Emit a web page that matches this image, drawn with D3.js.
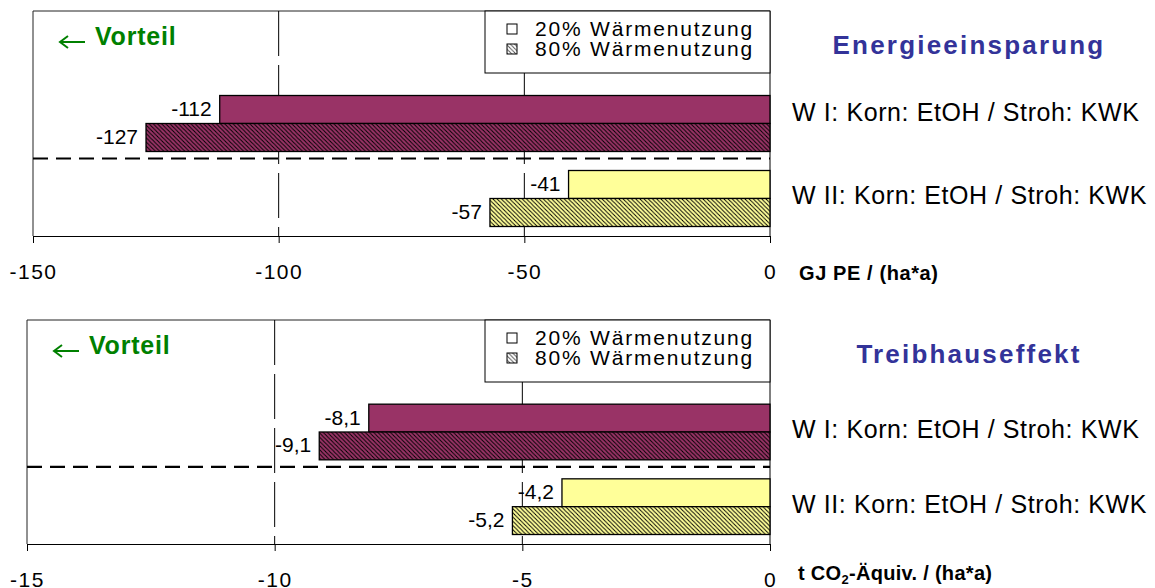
<!DOCTYPE html>
<html><head><meta charset="utf-8">
<script src="https://cdn.jsdelivr.net/npm/d3@7"></script>
<style>
html,body{margin:0;padding:0;background:#fff;}
svg{display:block;font-family:"Liberation Sans",Arial,sans-serif;}
</style></head>
<body>
<svg id="chart" width="1155" height="588"></svg>
<script>
// ---- data ----
const categories = ["", "W I: Korn: EtOH / Stroh: KWK", "W II: Korn: EtOH / Stroh: KWK"];
const seriesNames = ["20% Wärmenutzung", "80% Wärmenutzung"];
const energyWI = [-112, -127];
const energyWII = [-41, -57];
const ghgWI = [-8.1, -9.1];
const ghgWII = [-4.2, -5.2];
const energyTicks = [-150, -100, -50, 0];
const ghgTicks = [-15, -10, -5, 0];
const energyGrid = [-100, -50];
const ghgGrid = [-10, -5];
const panelTitles = ["Energieeinsparung", "Treibhauseffekt"];
const advantageText = "Vorteil";

const de = d3.formatLocale({decimal: ",", thousands: ".", grouping: [3], currency: ["", "€"], minus: "-"});

const panels = [
  {title: panelTitles[0], values: [energyWI, energyWII], ticks: energyTicks, grid: energyGrid,
   domain: [-150, 0], fmt: de.format("d"), x0: 33, x1: 770, y0: 11, y1: 236, labelOff: [-3, 5], unit: "energy"},
  {title: panelTitles[1], values: [ghgWI, ghgWII], ticks: ghgTicks, grid: ghgGrid,
   domain: [-15, 0], fmt: de.format(".1f"), x0: 27, x1: 770, y0: 320, y1: 544, labelOff: [6, 6], unit: "ghg"}
];
const tickFmt = de.format("d");

const colors = {"W I: Korn: EtOH / Stroh: KWK": "#993366", "W II: Korn: EtOH / Stroh: KWK": "#FFFF99"};

const svg = d3.select("#chart");
const defs = svg.append("defs");
function hatch(id, bg, line, w) {
  const s = 4.2;
  const p = defs.append("pattern").attr("id", id).attr("patternUnits", "userSpaceOnUse")
    .attr("width", s).attr("height", s);
  p.append("rect").attr("width", s).attr("height", s).attr("fill", bg);
  p.append("path").attr("d", `M-1,-1 L${s+1},${s+1} M-1,${s-1} L1,${s+1} M${s-1},-1 L${s+1},1`)
    .attr("stroke", line).attr("stroke-width", w);
}
hatch("h0", "#993366", "#000", 1);
hatch("h1", "#FFFF99", "#000", 1);
hatch("hL", "#ffffff", "#555", 1);

panels.forEach((P, pi) => {
  const x = d3.scaleLinear().domain(P.domain).range([P.x0, P.x1]);
  const y = d3.scaleBand().domain(categories).range([P.y0, P.y1]).paddingInner(0).paddingOuter(0);
  const g = svg.append("g");

  // frame: top & left
  g.append("line").attr("x1", P.x0).attr("x2", P.x1).attr("y1", P.y0).attr("y2", P.y0).attr("stroke", "#222");
  g.append("line").attr("x1", P.x0).attr("x2", P.x0).attr("y1", P.y0).attr("y2", P.y1).attr("stroke", "#222");

  // grid
  g.selectAll(".grid").data(P.grid).join("line")
    .attr("x1", d => x(d)).attr("x2", d => x(d))
    .attr("y1", P.y0).attr("y2", P.y1)
    .attr("stroke", "#000").attr("stroke-dasharray", "45,9");

  // zero line (right)
  g.append("line").attr("x1", x(0)).attr("x2", x(0)).attr("y1", P.y0).attr("y2", P.y1).attr("stroke", "#000");

  // bars
  categories.slice(1).forEach((c, ci) => {
    const inner = d3.scaleBand().domain(seriesNames).range([y(c) + 9.5, y(c) + y.bandwidth() - 9.5]);
    const vals = P.values[ci];
    seriesNames.forEach((s, si) => {
      const v = vals[si];
      g.append("rect")
        .attr("x", x(v)).attr("width", x(0) - x(v))
        .attr("y", inner(s)).attr("height", inner.bandwidth())
        .attr("fill", si === 0 ? colors[c] : (ci === 0 ? "url(#h0)" : "url(#h1)"))
        .attr("stroke", "#000").attr("stroke-width", 1.3);
      g.append("text")
        .attr("x", x(v) - 8).attr("y", inner(s) + inner.bandwidth() / 2 + 6.5)
        .attr("text-anchor", "end").attr("font-size", 21).attr("fill", "#000")
        .text(P.fmt(v));
    });
    // category label
    g.append("text").attr("x", 792).attr("y", y(c) + y.bandwidth() / 2 + P.labelOff[ci])
      .attr("font-size", 25).attr("letter-spacing", 0.6).attr("fill", "#000").text(c);
  });

  // separator dashed line
  const sep = y(categories[2]) - 2.5;
  g.append("line").attr("x1", P.x0).attr("x2", x(0)).attr("y1", sep).attr("y2", sep)
    .attr("stroke", "#000").attr("stroke-width", 2.2).attr("stroke-dasharray", "15,8");

  // axis
  const ax = g.append("g").attr("transform", `translate(0,${P.y1})`)
    .call(d3.axisBottom(x).tickValues(P.ticks).tickSize(7).tickSizeOuter(0).tickFormat(tickFmt));
  ax.select(".domain").attr("stroke", "#000");
  ax.selectAll(".tick line").attr("stroke", "#000");
  ax.selectAll(".tick text").attr("y", 43).attr("dy", 0).attr("font-size", 21)
    .attr("letter-spacing", 1.5).attr("font-family", "Liberation Sans, Arial, sans-serif").attr("fill", "#000");

  // legend
  const lx = 485, ly = P.y0;
  g.append("rect").attr("x", lx).attr("y", ly).attr("width", x(0) - lx).attr("height", 62)
    .attr("fill", "#fff").attr("stroke", "#000").attr("stroke-width", 1);
  seriesNames.forEach((s, si) => {
    const ry = ly + 13 + si * 20;
    g.append("rect").attr("x", 507).attr("y", ry).attr("width", 10).attr("height", 10)
      .attr("fill", si === 0 ? "#fff" : "url(#hL)").attr("stroke", "#000").attr("stroke-width", 1);
    g.append("text").attr("x", 535).attr("y", ry + 11.5).attr("font-size", 21)
      .attr("letter-spacing", 1.8).attr("fill", "#000").text(s);
  });

  // Vorteil arrow
  const axp = P.x0 + 27, ayp = P.y0 + 31;
  g.append("path")
    .attr("d", `M${axp + 25},${ayp} L${axp},${ayp} M${axp + 8},${ayp - 6} L${axp},${ayp} L${axp + 8},${ayp + 6}`)
    .attr("fill", "none").attr("stroke", "#008000").attr("stroke-width", 2);
  g.append("text").attr("x", P.x0 + 62).attr("y", P.y0 + 34).attr("font-size", 25).attr("font-weight", "bold")
    .attr("letter-spacing", 0.8).attr("fill", "#008000").text(advantageText);

  // panel title
  g.append("text").attr("x", 969).attr("y", P.y0 + 42.5).attr("text-anchor", "middle")
    .attr("font-size", 26).attr("font-weight", "bold").attr("letter-spacing", 2.2)
    .attr("fill", "#333399").text(P.title);

  // unit
  if (P.unit === "energy") {
    g.append("text").attr("x", 799).attr("y", P.y1 + 44).attr("font-size", 20).attr("font-weight", "bold")
      .attr("letter-spacing", 0.6).attr("fill", "#000").text("GJ PE / (ha*a)");
  } else {
    const t = g.append("text").attr("x", 798).attr("y", P.y1 + 36).attr("font-size", 20).attr("font-weight", "bold")
      .attr("letter-spacing", 0.3).attr("fill", "#000");
    t.append("tspan").text("t CO");
    t.append("tspan").attr("font-size", 13).attr("dy", 4).text("2");
    t.append("tspan").attr("dy", -4).text("-Äquiv. / (ha*a)");
  }
});
</script>
</body></html>
